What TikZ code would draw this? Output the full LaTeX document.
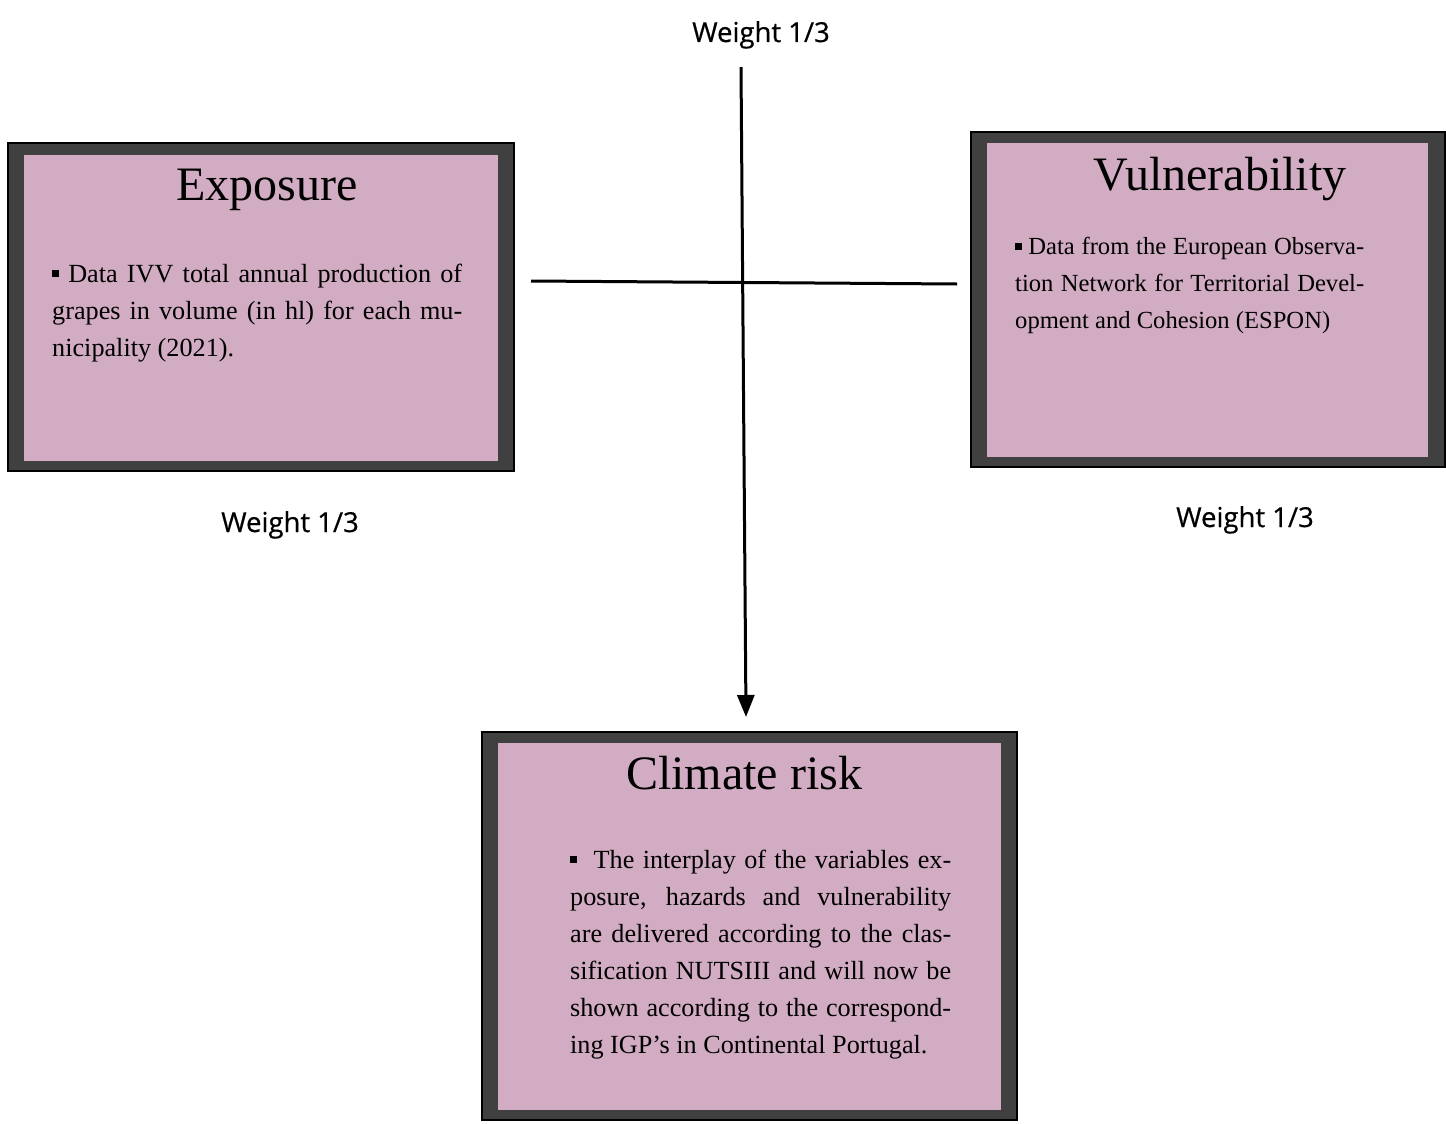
\documentclass[tikz,border=0pt]{standalone}
\usepackage{fontspec}
\setmainfont{Liberation Serif}
\newfontfamily\labelfont[FakeBold=0.6]{Open Sans}
\usetikzlibrary{arrows.meta}

\definecolor{framegray}{HTML}{404040}
\definecolor{panelpink}{HTML}{D2ACC2}

\newcommand{\sqbullet}{\rule[0.18em]{0.26em}{0.26em}}

\begin{document}
\begin{tikzpicture}[x=1pt,y=-1pt,
  outerbox/.style={draw=black, line width=1.3pt, fill=framegray, inner sep=0pt},
  innerbox/.style={fill=panelpink, inner sep=0pt},
  titletext/.style={font=\fontsize{48}{56}\selectfont, inner sep=0pt, anchor=base},
  bodytext/.style={font=\fontsize{26.2}{37}\selectfont, inner sep=0pt, anchor=base west,
    align=justify, execute at begin node={\parindent=0pt \hbadness=10000 \hfuzz=20pt
      \hyphenpenalty=10000 \exhyphenpenalty=10000 \pretolerance=-1 \tolerance=10000
      \spaceskip=.25em plus .3em minus .12em}},
  weightlabel/.style={font=\labelfont\fontsize{27.5}{32}\selectfont, inner sep=0pt, anchor=base},
  link/.style={line width=3pt},
  arrowlink/.style={line width=3pt, -{Triangle[length=22pt,width=17pt]}}
]
\useasboundingbox (0,0) rectangle (1446,1124);

% Exposure panel
\node[outerbox, minimum width=506pt, minimum height=328pt] (expo) at (261,307) {};
\node[innerbox, minimum width=474pt, minimum height=306pt] (expoin) at (261,308) {};
\node[titletext] (expotitle) at (267,200) {Exposure};
\node[bodytext, text width=410pt] (expotext) at (52,282) {%
  \sqbullet\ Data IVV total annual production of\linebreak
  grapes in volume (in hl) for each mu-\linebreak
  nicipality (2021).};

% Vulnerability panel
\node[outerbox, minimum width=474pt, minimum height=335pt] (vuln) at (1208,299.5) {};
\node[innerbox, minimum width=441pt, minimum height=314pt] (vulnin) at (1207.5,300) {};
\node[titletext] (vulntitle) at (1220,190) {Vulnerability};
\node[bodytext, text width=349pt, font=\fontsize{24.6}{37}\selectfont] (vulntext) at (1015,254) {%
  \sqbullet\ Data from the European Observa-\linebreak
  tion Network for Territorial Devel-\linebreak
  opment and Cohesion (ESPON)};

% Climate risk panel
\node[outerbox, minimum width=535pt, minimum height=388pt] (risk) at (749.5,926) {};
\node[innerbox, minimum width=503pt, minimum height=367pt] (riskin) at (749.5,926.5) {};
\node[titletext] (risktitle) at (744,789) {Climate risk};
\node[bodytext, text width=381pt] (risktext) at (570,868) {%
  \sqbullet\ \ The interplay of the variables ex-\linebreak
  posure, hazards and vulnerability\linebreak
  are delivered according to the clas-\linebreak
  sification NUTSIII and will now be\linebreak
  shown according to the correspond-\linebreak
  ing IGP's in Continental Portugal.};

% weights
\node[weightlabel] (wtop) at (761,42) {Weight 1/3};
\node[weightlabel] (wleft) at (290,532) {Weight 1/3};
\node[weightlabel] (wright) at (1245,527) {Weight 1/3};

% connectors
\coordinate (hleft) at (531,281);
\coordinate (hright) at (957,284);
\coordinate (vtop) at (741,67);
\coordinate (vend) at (746,717);
\draw[link] (hleft) -- (hright);
\draw[arrowlink] (vtop) -- (vend);
\end{tikzpicture}
\end{document}
